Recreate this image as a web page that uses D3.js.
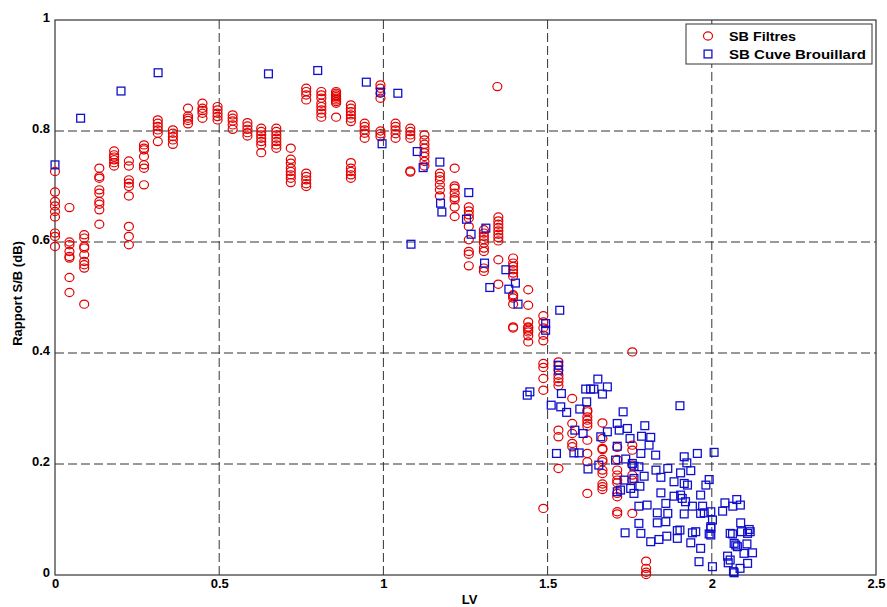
<!DOCTYPE html>
<html><head><meta charset="utf-8">
<script src="https://cdn.jsdelivr.net/npm/d3@7"></script>
<style>
html,body{margin:0;padding:0;background:#fff;}
svg{display:block;font-family:"Liberation Sans",Arial,sans-serif;}
</style></head>
<body>
<svg id="chart" width="887" height="607"></svg>
<script>
const xTicks = [0, 0.5, 1, 1.5, 2, 2.5];
const xTickLabels = ["0", "0.5", "1", "1.5", "2", "2.5"];
const yTicks = [0, 0.2, 0.4, 0.6, 0.8, 1];
const yTickLabels = ["0", "0.2", "0.4", "0.6", "0.8", "1"];
const seriesNames = ["SB Filtres", "SB Cuve Brouillard"];
const xLabel = "LV";
const yLabel = "Rapport S/B (dB)";

// SB Filtres: columns of [LV, [S/B values]]
const filtresCols = [
  [0.000, [0.727,0.69,0.673,0.665,0.655,0.645,0.616,0.61,0.592]],
  [0.044, [0.662,0.6,0.595,0.583,0.574,0.571,0.536,0.509]],
  [0.089, [0.613,0.607,0.592,0.589,0.577,0.565,0.559,0.553,0.488]],
  [0.135, [0.733,0.718,0.715,0.694,0.688,0.673,0.668,0.658,0.632]],
  [0.180, [0.764,0.757,0.753,0.748,0.743,0.737]],
  [0.225, [0.746,0.737,0.712,0.706,0.70,0.683,0.628,0.61,0.595]],
  [0.271, [0.775,0.769,0.766,0.754,0.739,0.733,0.703]],
  [0.313, [0.82,0.814,0.808,0.802,0.796,0.781]],
  [0.359, [0.802,0.796,0.79,0.784,0.776]],
  [0.405, [0.841,0.827,0.823,0.819,0.813]],
  [0.449, [0.85,0.841,0.837,0.832,0.823]],
  [0.495, [0.844,0.838,0.832,0.826,0.82]],
  [0.541, [0.829,0.823,0.818,0.811,0.803]],
  [0.586, [0.815,0.809,0.803,0.797,0.791]],
  [0.628, [0.805,0.799,0.793,0.787,0.781,0.775,0.761]],
  [0.674, [0.805,0.799,0.793,0.787,0.781,0.775,0.769]],
  [0.718, [0.769,0.749,0.742,0.733,0.727,0.721,0.715,0.707]],
  [0.765, [0.877,0.871,0.865,0.856,0.724,0.718,0.712,0.705,0.70]],
  [0.811, [0.871,0.865,0.859,0.85,0.844,0.838,0.832,0.825]],
  [0.856, [0.871,0.868,0.865,0.862,0.859,0.856,0.853,0.85,0.825]],
  [0.901, [0.847,0.841,0.835,0.829,0.823,0.817,0.743,0.733,0.727,0.721,0.715]],
  [0.943, [0.814,0.808,0.802,0.796,0.787]],
  [0.991, [0.883,0.877,0.868,0.859,0.80,0.795,0.79]],
  [1.037, [0.814,0.808,0.802,0.795,0.787]],
  [1.082, [0.805,0.799,0.793,0.787,0.728,0.726]],
  [1.125, [0.793,0.784,0.776,0.769,0.761,0.754,0.745,0.737]],
  [1.172, [0.724,0.718,0.712,0.703,0.694,0.683]],
  [1.217, [0.733,0.701,0.697,0.688,0.68,0.676,0.663,0.646]],
  [1.260, [0.663,0.656,0.649,0.643,0.628,0.604,0.583,0.578,0.557]],
  [1.306, [0.622,0.616,0.61,0.604,0.598,0.589,0.583,0.553,0.547]],
  [1.347, [0.88]],
  [1.350, [0.645,0.638,0.632,0.626,0.62,0.614,0.608,0.602,0.568,0.524]],
  [1.395, [0.571,0.562,0.556,0.55,0.544,0.538,0.505,0.503,0.499,0.488,0.447,0.445]],
  [1.441, [0.514,0.486,0.456,0.447,0.445,0.441,0.438,0.431,0.42]],
  [1.487, [0.467,0.456,0.445,0.432,0.422,0.381,0.374,0.354,0.333,0.12]],
  [1.533, [0.384,0.377,0.369,0.36,0.354,0.348,0.341,0.261,0.249,0.192]],
  [1.575, [0.318,0.273,0.255,0.237,0.231]],
  [1.621, [0.297,0.294,0.285,0.279,0.273,0.268,0.243,0.219,0.204,0.147]],
  [1.667, [0.274,0.246,0.228,0.226,0.208,0.204,0.189,0.183,0.164,0.159,0.154]],
  [1.712, [0.23,0.208,0.189,0.18,0.171,0.166,0.147,0.141,0.114,0.11]],
  [1.758, [0.402,0.234,0.225,0.198,0.18,0.171,0.111]],
  [1.800, [0.025,0.012,0.005,0.001]]
];

// SB Cuve Brouillard: [LV, S/B]
const cuvePoints = [
  [0,0.739],[0.078,0.823],[0.201,0.872],[0.314,0.905],[0.65,0.903],[0.80,0.909],[0.948,0.888],
  [0.991,0.87],[0.996,0.777],[1.044,0.868],[1.084,0.596],[1.103,0.763],[1.121,0.734],[1.172,0.744],
  [1.174,0.67],[1.178,0.654],[1.26,0.689],[1.253,0.641],[1.267,0.614],[1.312,0.625],[1.308,0.562],
  [1.373,0.55],[1.324,0.518],[1.402,0.526],[1.382,0.515],[1.41,0.488],[1.494,0.453],[1.494,0.441],
  [1.537,0.477],[1.438,0.324],[1.446,0.33],[1.533,0.378],[1.533,0.369],[1.542,0.327],[1.653,0.353],
  [1.616,0.335],[1.631,0.335],[1.641,0.335],[1.682,0.339],[1.667,0.326],[1.511,0.306],[1.54,0.303],
  [1.558,0.293],[1.598,0.299],[1.619,0.312],[1.73,0.294],[1.583,0.261],[1.608,0.255],[1.662,0.249],
  [1.682,0.258],[1.712,0.273],[1.743,0.264],[1.796,0.269],[1.718,0.261],[1.527,0.219],[1.58,0.22],
  [1.596,0.22],[1.623,0.191],[1.712,0.232],[1.751,0.246],[1.786,0.25],[1.814,0.248],[1.809,0.234],
  [1.784,0.219],[1.829,0.216],[1.707,0.207],[1.758,0.201],[1.656,0.198],[1.903,0.305],
  [1.738,0.209],[1.916,0.213],[1.956,0.219],[2.007,0.221],[1.924,0.202],[1.778,0.195],[1.763,0.196],
  [1.83,0.189],[1.866,0.192],[1.905,0.184],[1.936,0.188],[1.733,0.171],[1.763,0.174],[1.794,0.178],
  [1.845,0.176],[1.885,0.168],[1.916,0.165],[1.926,0.162],[1.992,0.172],[1.982,0.162],[1.712,0.15],
  [1.722,0.153],[1.753,0.156],[1.763,0.147],[1.781,0.16],[1.845,0.148],[1.885,0.142],[1.905,0.144],
  [1.91,0.138],[1.92,0.132],[1.778,0.124],[1.803,0.126],[1.86,0.129],[1.834,0.112],[1.866,0.111],
  [1.916,0.11],[1.941,0.124],[1.972,0.124],[1.966,0.111],[1.977,0.112],[1.997,0.114],[2.002,0.099],
  [1.834,0.094],[1.86,0.096],[1.778,0.093],[1.736,0.076],[1.784,0.075],[1.814,0.06],[1.839,0.064],
  [1.863,0.07],[1.895,0.08],[1.903,0.081],[1.895,0.066],[1.941,0.076],[1.951,0.078],[1.936,0.058],
  [1.992,0.074],[1.997,0.087],[1.966,0.048],[1.961,0.024],[2.002,0.015],[1.966,0.144],[1.997,0.084],
  [1.997,0.072],
  [2.04,0.13],[2.076,0.136],[2.087,0.126],[2.064,0.124],[2.033,0.115],[2.088,0.094],[2.114,0.082],
  [2.109,0.075],[2.117,0.078],[2.09,0.078],[2.056,0.075],[2.063,0.074],[2.068,0.057],[2.073,0.054],
  [2.078,0.051],[2.107,0.056],[2.124,0.04],[2.098,0.039],[2.048,0.034],[2.056,0.027],[2.05,0.022],
  [2.109,0.021],[2.086,0.012],[2.068,0.004],[2.066,0.006]
];

const filtresPoints = filtresCols.flatMap(([lv, vals]) => vals.map(v => [lv, v]));

const RED = "#e20000", BLUE = "#1010cc";
const FONT = "'Liberation Sans',Arial,sans-serif";
const margin = {left:55, top:20, right:11, bottom:32};
const W = 887, H = 607;
const iw = W - margin.left - margin.right, ih = H - margin.top - margin.bottom;

const svg = d3.select("#chart");
svg.append("rect").attr("width", W).attr("height", H).attr("fill", "#fff");
const g = svg.append("g").attr("transform", `translate(${margin.left},${margin.top})`);

const x = d3.scaleLinear().domain([0, 2.5]).range([0, iw]);
const y = d3.scaleLinear().domain([0, 1]).range([ih, 0]);

// grid
g.append("g").selectAll("line").data(xTicks.filter(t => t > 0 && t < 2.5)).join("line")
  .attr("x1", d => x(d)).attr("x2", d => x(d)).attr("y1", 0).attr("y2", ih)
  .attr("stroke", "#333").attr("stroke-width", 1).attr("stroke-dasharray", "9,4");
g.append("g").selectAll("line").data(yTicks.filter(t => t > 0 && t < 1)).join("line")
  .attr("y1", d => y(d)).attr("y2", d => y(d)).attr("x1", 0).attr("x2", iw)
  .attr("stroke", "#333").attr("stroke-width", 1).attr("stroke-dasharray", "9,4");

// axes
const xAxis = g.append("g").attr("transform", `translate(0,${ih})`)
  .call(d3.axisBottom(x).tickValues(xTicks).tickFormat((d, i) => xTickLabels[i]).tickSize(0).tickPadding(4));
const yAxis = g.append("g")
  .call(d3.axisLeft(y).tickValues(yTicks).tickFormat((d, i) => yTickLabels[i]).tickSize(0).tickPadding(5));
[xAxis, yAxis].forEach(a => {
  a.select(".domain").remove();
  a.selectAll("text").attr("font-size", 13).attr("font-weight", "bold").attr("fill", "#000")
    .attr("font-family", FONT);
});
yAxis.selectAll("text").attr("dy", "0.1em");

// frame
g.append("rect").attr("x", 0).attr("y", 0).attr("width", iw).attr("height", ih)
  .attr("fill", "none").attr("stroke", "#333").attr("stroke-width", 1.2);

// points
g.append("g").selectAll("ellipse").data(filtresPoints).join("ellipse")
  .attr("cx", d => x(d[0])).attr("cy", d => y(d[1])).attr("rx", 4.5).attr("ry", 4.1)
  .attr("fill", "none").attr("stroke", RED).attr("stroke-width", 1.2);
const s = 7.8;
g.append("g").selectAll("rect").data(cuvePoints).join("rect")
  .attr("x", d => x(d[0]) - s/2).attr("y", d => y(d[1]) - s/2).attr("width", s).attr("height", s)
  .attr("fill", "none").attr("stroke", BLUE).attr("stroke-width", 1.3);

// labels
svg.append("text").attr("x", margin.left + iw/2 + 4).attr("y", 604).attr("text-anchor", "middle")
  .attr("font-size", 13).attr("font-weight", "bold").text(xLabel);
svg.append("text").attr("transform", `translate(22,${margin.top + ih/2 - 4}) rotate(-90)`)
  .attr("text-anchor", "middle").attr("font-size", 13).attr("font-weight", "bold").text(yLabel);

// legend
const lg = svg.append("g").attr("transform", "translate(686,24)");
lg.append("rect").attr("width", 186).attr("height", 40).attr("fill", "#fff").attr("stroke", "#333").attr("stroke-width", 1);
lg.append("ellipse").attr("cx", 22).attr("cy", 12).attr("rx", 4.5).attr("ry", 4.1).attr("fill", "none").attr("stroke", RED).attr("stroke-width", 1.2);
lg.append("rect").attr("x", 22 - s/2).attr("y", 30 - s/2).attr("width", s).attr("height", s).attr("fill", "none").attr("stroke", BLUE).attr("stroke-width", 1.3);
const legendWidths = [67, 137];
lg.selectAll("text.lbl").data(seriesNames).join("text").attr("class", "lbl")
  .attr("x", 43).attr("y", (d, i) => 16.5 + i * 18).attr("font-size", 12.5).attr("font-weight", "bold")
  .attr("textLength", (d, i) => legendWidths[i]).attr("lengthAdjust", "spacingAndGlyphs").text(d => d);
</script>
</body></html>
